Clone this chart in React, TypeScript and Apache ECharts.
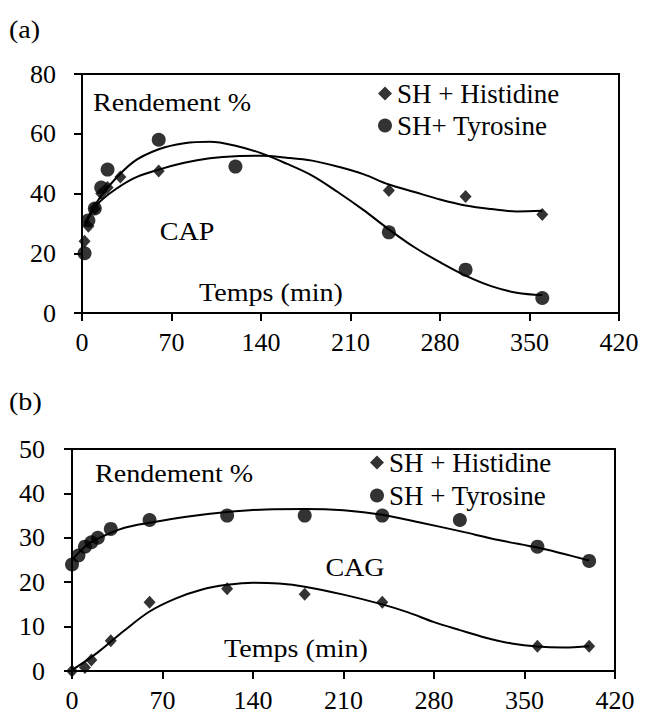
import React, { useEffect, useRef } from "react";
import * as echarts from "echarts";

// ---------- data ----------
const xTicksMax = 420;
const xInterval = 70;

// (a) CAP
const histA: [number, number][] = [
  [2, 24], [5, 29], [10, 35], [15, 40], [20, 42], [30, 45.5], [60, 47.5], [240, 41], [300, 39], [360, 33],
];
const tyrA: [number, number][] = [
  [2, 20], [5, 31], [10, 35], [15, 42], [20, 48], [60, 58], [120, 49], [240, 27], [300, 14.5], [360, 5],
];
const histATrend: [number, number][] = [
  [2, 29], [10, 35.3], [20, 39.5], [40, 45], [60, 48], [80, 50.3], [100, 51.8], [120, 52.5],
  [140, 52.6], [160, 52], [180, 51], [200, 49], [220, 46.5], [240, 43], [260, 40.5], [280, 38], [300, 36],
  [320, 34.8], [340, 34], [360, 34.2],
];
const tyrATrend: [number, number][] = [
  [2, 30], [10, 36], [20, 42], [40, 50.5], [60, 54.8], [80, 56.8], [100, 57.3],
  [120, 56], [140, 53.5], [160, 50], [180, 46], [200, 40.5], [220, 34.5], [240, 28], [260, 22], [280, 17],
  [300, 12.5], [320, 9], [340, 6.8], [360, 6],
];

// (b) CAG
const histB: [number, number][] = [
  [0, 0], [10, 0.8], [15, 2.5], [30, 6.8], [60, 15.5], [120, 18.5], [180, 17.3], [240, 15.5], [360, 5.6], [400, 5.6],
];
const tyrB: [number, number][] = [
  [0, 24], [5, 26], [10, 28], [15, 29], [20, 30], [30, 32], [60, 34], [120, 35], [180, 35], [240, 35], [300, 34],
  [360, 28], [400, 24.8],
];
const histBTrend: [number, number][] = [
  [0, 0.2], [20, 4.2], [40, 9], [60, 13.4], [80, 16.3], [100, 18.3], [120, 19.4], [140, 19.9],
  [160, 19.7], [180, 19], [210, 17.2], [240, 15], [260, 13.2], [280, 11], [300, 9.2], [320, 7.5], [340, 6.2],
  [360, 5.5], [380, 5.3], [400, 5.6],
];
const tyrBTrend: [number, number][] = [
  [0, 25], [10, 28], [20, 29.8], [40, 32.2], [60, 33.4], [90, 34.8], [120, 35.8],
  [150, 36.4], [180, 36.5], [210, 36.2], [240, 35.2], [270, 33.4], [300, 31.5], [330, 29.5], [360, 27.8],
  [380, 26.4], [400, 24.9],
];

const yMaxA = 80;
const yIntA = 20;
const yMaxB = 50;
const yIntB = 10;

const nameHistA = "SH + Histidine";
const nameTyrA = "SH+ Tyrosine";
const nameHistB = "SH + Histidine ";
const nameTyrB = "SH + Tyrosine";

const FONT = "'Liberation Serif', 'Times New Roman', Times, serif";

function buildOption(): any {
  const axisCommon = {
    axisLine: { show: true, onZero: false, lineStyle: { color: "#000", width: 2 } },
    axisTick: { show: true, inside: false, length: 8, lineStyle: { color: "#000", width: 2 } },
    splitLine: { show: false },
    axisLabel: { color: "#000", fontFamily: FONT, fontSize: 26 },
  };
  const txt = (text: string, x: number, y: number, align: string, sx = 1.08) => ({
    type: "text",
    x,
    y,
    scaleX: sx,
    style: {
      text,
      fill: "#000",
      fontFamily: FONT,
      fontSize: 26,
      align,
      verticalAlign: "middle",
    },
  });
  const scatter = (name: string, data: any, idx: number, symbol: string, size: any) => ({
    type: "scatter",
    name,
    xAxisIndex: idx,
    yAxisIndex: idx,
    data,
    symbol,
    symbolSize: size,
    itemStyle: { color: "#000" },
    z: 5,
  });
  const trend = (name: string, data: any, idx: number) => ({
    type: "line",
    name,
    xAxisIndex: idx,
    yAxisIndex: idx,
    data,
    smooth: 0.35,
    showSymbol: false,
    symbol: "none",
    lineStyle: { color: "#000", width: 2 },
    z: 4,
  });
  return {
    animation: false,
    backgroundColor: "#fff",
    grid: [
      { left: 82, top: 74, width: 537, height: 239, show: true, borderColor: "#000", borderWidth: 2, containLabel: false },
      { left: 72, top: 449, width: 543, height: 222, show: true, borderColor: "#000", borderWidth: 2, containLabel: false },
    ],
    xAxis: [
      { ...axisCommon, type: "value", gridIndex: 0, min: 0, max: xTicksMax, interval: xInterval, axisLabel: { ...axisCommon.axisLabel, margin: 16 } },
      { ...axisCommon, type: "value", gridIndex: 1, min: 0, max: xTicksMax, interval: xInterval, axisLabel: { ...axisCommon.axisLabel, margin: 16 } },
    ],
    yAxis: [
      { ...axisCommon, type: "value", gridIndex: 0, min: 0, max: yMaxA, interval: yIntA, axisLabel: { ...axisCommon.axisLabel, margin: 26 } },
      { ...axisCommon, type: "value", gridIndex: 1, min: 0, max: yMaxB, interval: yIntB, axisLabel: { ...axisCommon.axisLabel, margin: 27 } },
    ],
    legend: [
      {
        orient: "vertical",
        left: 378,
        top: 80,
        padding: 0,
        itemGap: 5,
        itemWidth: 14,
        itemHeight: 14,
        textStyle: { color: "#000", fontFamily: FONT, fontSize: 27 },
        data: [
          { name: nameHistA, icon: "diamond" },
          { name: nameTyrA, icon: "circle" },
        ],
      },
      {
        orient: "vertical",
        left: 370,
        top: 449,
        padding: 0,
        itemGap: 6,
        itemWidth: 14,
        itemHeight: 14,
        textStyle: { color: "#000", fontFamily: FONT, fontSize: 27 },
        data: [
          { name: nameHistB, icon: "diamond" },
          { name: nameTyrB, icon: "circle" },
        ],
      },
    ],
    graphic: [
      txt("(a)", 9, 29, "left"),
      txt("Rendement %", 93, 102, "left"),
      txt("CAP", 187, 231, "center"),
      txt("Temps (min)", 271, 292, "center"),
      txt("(b)", 9, 401, "left"),
      txt("Rendement %", 95, 473, "left"),
      txt("CAG", 355, 567, "center"),
      txt("Temps (min)", 296, 648, "center"),
    ],
    series: [
      trend("trend-hist-a", histATrend, 0),
      trend("trend-tyr-a", tyrATrend, 0),
      scatter(nameHistA, histA, 0, "diamond", [12, 13]),
      scatter(nameTyrA, tyrA, 0, "circle", 14),
      trend("trend-hist-b", histBTrend, 1),
      trend("trend-tyr-b", tyrBTrend, 1),
      scatter(nameHistB, histB, 1, "diamond", [12, 13]),
      scatter(nameTyrB, tyrB, 1, "circle", 14),
    ],
  };
}

export default function App() {
  const ref = useRef<HTMLDivElement>(null);
  useEffect(() => {
    if (!ref.current) return;
    const chart = echarts.init(ref.current, null, { renderer: "svg" });
    chart.setOption(buildOption());
    return () => {
      chart.dispose();
    };
  }, []);
  return (
    <div
      ref={ref}
      style={{ position: "fixed", left: 0, top: 0, width: 645, height: 718, background: "#fff" }}
    />
  );
}
